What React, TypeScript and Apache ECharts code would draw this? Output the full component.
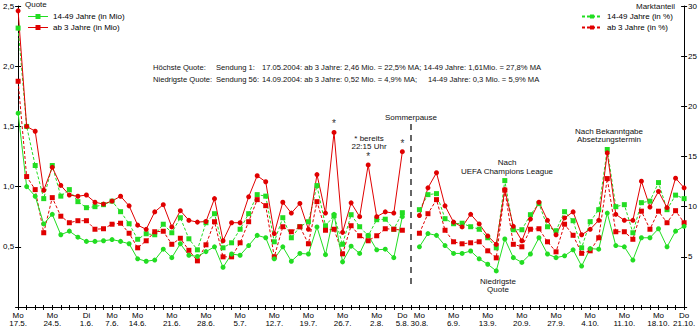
import React, { useEffect, useRef } from "react";
import * as echarts from "echarts";

// Episodes (Mo–Do), empty slot = Sommerpause
const episodes: string[] = [
  "Mo 17.5.", "Di 18.5.", "Mi 19.5.", "Do 20.5.",
  "Mo 24.5.", "Di 25.5.", "Mi 26.5.", "Do 27.5.",
  "Di 1.6.", "Mi 2.6.", "Do 3.6.",
  "Mo 7.6.", "Di 8.6.", "Mi 9.6.",
  "Mo 14.6.", "Di 15.6.", "Mi 16.6.", "Do 17.6.",
  "Mo 21.6.", "Di 22.6.", "Mi 23.6.", "Do 24.6.",
  "Mo 28.6.", "Di 29.6.", "Mi 30.6.", "Do 1.7.",
  "Mo 5.7.", "Di 6.7.", "Mi 7.7.", "Do 8.7.",
  "Mo 12.7.", "Di 13.7.", "Mi 14.7.", "Do 15.7.",
  "Mo 19.7.", "Di 20.7.", "Mi 21.7.", "Do 22.7.",
  "Mo 26.7.", "Di 27.7.", "Mi 28.7.", "Do 29.7.",
  "Mo 2.8.", "Di 3.8.", "Mi 4.8.", "Do 5.8.",
  "",
  "Mo 30.8.", "Di 31.8.", "Mi 1.9.", "Do 2.9.",
  "Mo 6.9.", "Di 7.9.", "Mi 8.9.", "Do 9.9.",
  "Mo 13.9.", "Di 14.9.", "Mi 15.9.", "Do 16.9.",
  "Mo 20.9.", "Di 21.9.", "Mi 22.9.", "Do 23.9.",
  "Mo 27.9.", "Di 28.9.", "Mi 29.9.", "Do 30.9.",
  "Mo 4.10.", "Di 5.10.", "Mi 6.10.", "Do 7.10.",
  "Mo 11.10.", "Di 12.10.", "Mi 13.10.", "Do 14.10.",
  "Mo 18.10.", "Di 19.10.", "Mi 20.10.", "Do 21.10.",
];

const shownLabels: string[] = [
  "Mo 17.5.", "Mo 24.5.", "Di 1.6.", "Mo 7.6.", "Mo 14.6.", "Mo 21.6.", "Mo 28.6.",
  "Mo 5.7.", "Mo 12.7.", "Mo 19.7.", "Mo 26.7.", "Mo 2.8.", "Do 5.8.", "Mo 30.8.",
  "Mo 6.9.", "Mo 13.9.", "Mo 20.9.", "Mo 27.9.", "Mo 4.10.", "Mo 11.10.", "Mo 18.10.", "Do 21.10.",
];

const starredDays: string[] = ["Do 22.7.", "Do 29.7.", "Do 5.8."];

// ab 3 Jahre (in Mio)
const mioAb3: (number | null)[] = [
  2.46, 1.50, 1.46, 0.97, 1.16, 1.01, 0.93, 0.92, 0.93, 0.87,
  0.855, 0.88, 0.92, 0.84, 0.68, 0.645, 0.79, 0.85, 0.665, 0.80,
  0.72, 0.705, 0.71, 0.90, 0.55, 0.70, 0.70, 0.915, 1.09, 1.04,
  0.61, 0.87, 0.78, 0.86, 0.645, 1.10, 0.78, 1.45, 0.62, 0.865,
  0.75, 1.18, 0.75, 0.79, 0.78, 1.29, null, 0.76, 0.99, 1.115,
  0.84, 0.705, 0.665, 0.77, 0.69, 0.59, 0.52, 0.975, 0.67, 0.55,
  0.73, 0.87, 0.72, 0.60, 0.74, 0.79, 0.60, 0.645, 0.72, 1.28,
  0.77, 0.72, 0.72, 1.045, 0.83, 0.96, 0.825, 1.07, 0.99,
];

// 14-49 Jahre (in Mio)
const mio1449: (number | null)[] = [
  1.61, 1.00, 0.92, 0.69, 0.77, 0.60, 0.63, 0.58, 0.545, 0.545,
  0.55, 0.56, 0.545, 0.525, 0.40, 0.38, 0.39, 0.48, 0.41, 0.525,
  0.43, 0.42, 0.46, 0.50, 0.33, 0.44, 0.43, 0.51, 0.595, 0.575,
  0.40, 0.50, 0.38, 0.445, 0.44, 0.665, 0.435, 0.77, 0.375, 0.505,
  0.445, 0.595, 0.475, 0.48, 0.41, 0.75, null, 0.50, 0.61, 0.595,
  0.51, 0.445, 0.445, 0.465, 0.40, 0.355, 0.30, 0.565, 0.41, 0.37,
  0.44, 0.575, 0.44, 0.41, 0.425, 0.475, 0.34, 0.485, 0.48, 0.78,
  0.51, 0.50, 0.39, 0.575, 0.575, 0.65, 0.50, 0.63, 0.67,
];

// 14-49 Jahre (in %)
const pct1449: (number | null)[] = [
  27.8, 18.0, 14.1, 10.8, 14.1, 11.05, 11.7, 10.5, 9.9, 10.0,
  10.2, 10.55, 9.5, 8.3, 6.75, 7.3, 7.2, 8.25, 7.4, 8.9,
  6.8, 5.7, 8.4, 9.3, 5.9, 6.4, 7.75, 9.3, 11.2, 11.05,
  6.5, 8.9, 6.9, 8.0, 8.5, 12.1, 8.1, 9.1, 6.25, 9.2,
  8.0, 7.1, 8.7, 8.75, 7.75, 9.4, null, 9.7, 11.2, 11.3,
  8.8, 8.3, 8.35, 8.0, 7.75, 6.9, 5.9, 12.6, 7.7, 7.7,
  9.2, 10.3, 8.0, 7.6, 9.5, 8.6, 5.9, 8.5, 9.7, 15.7,
  10.0, 10.2, 7.4, 10.4, 10.55, 12.4, 9.7, 11.15, 10.8,
];

// ab 3 Jahre (in %)
const pctAb3: (number | null)[] = [
  22.5, 13.0, 11.7, 7.4, 10.9, 9.05, 8.4, 8.6, 8.6, 7.75,
  7.8, 8.25, 8.35, 7.35, 5.9, 6.6, 7.5, 7.55, 6.25, 6.85,
  5.65, 4.6, 6.2, 8.5, 5.0, 5.0, 6.4, 8.5, 10.7, 10.1,
  5.0, 8.0, 7.5, 8.0, 6.3, 10.5, 7.65, 7.75, 5.3, 8.1,
  7.1, 6.6, 7.1, 7.8, 7.75, 7.65, null, 7.35, 9.3, 10.7,
  7.65, 6.5, 6.3, 6.4, 6.5, 5.6, 4.9, 11.65, 6.25, 6.0,
  7.75, 7.8, 6.5, 5.5, 8.25, 7.15, 5.35, 5.6, 6.9, 12.8,
  7.5, 7.5, 6.75, 9.55, 7.75, 9.55, 8.4, 9.6, 8.4,
];

const FONT = "'Liberation Sans', Arial, sans-serif";
const GREEN = "#22dd22";
const RED = "#e00000";
const TXT = "#111";
const FS = 8;
const AFS = 7.6;
const LEGEND_LINE_SQUARE = "path://M0,2 L20,2 L20,3 L0,3 Z M7.5,0 L12.5,0 L12.5,5 L7.5,5 Z";

function txt(text: string, x: number, y: number, align: string = "center", size: number = FS) {
  return {
    type: "text",
    x,
    y,
    silent: true,
    style: { text, fill: TXT, fontSize: size, fontFamily: FONT, align, verticalAlign: "middle" },
  };
}

export default function App() {
  const ref = useRef<HTMLDivElement>(null);
  useEffect(() => {
    if (!ref.current) return;
    const chart = echarts.init(ref.current, undefined, { renderer: "svg" });
    const axisCommonLine = { show: true, lineStyle: { color: "#000", width: 1 } };
    const labelStyle = { fontSize: FS, fontFamily: FONT, color: "#000" };
    const fmtMio = (v: number) => (v === 0 ? "" : v.toFixed(1).replace(".", ","));
    const fmtPct = (v: number) => (v === 0 ? "" : String(v));
    const legendText = { fontSize: FS, fontFamily: FONT, color: "#000", lineHeight: 9 };

    const option: any = {
      animation: false,
      backgroundColor: "#fff",
      grid: { left: 15, right: 13, top: 6, bottom: 20, containLabel: false },
      legend: [
        {
          data: [
            { name: "14-49 Jahre (in Mio)", icon: LEGEND_LINE_SQUARE },
            { name: "ab 3 Jahre (in Mio)", icon: LEGEND_LINE_SQUARE },
          ],
          orient: "vertical",
          left: 28,
          top: 12,
          itemWidth: 20,
          itemHeight: 5,
          itemGap: 2,
          padding: 0,
          textStyle: legendText,
        },
        {
          data: ["14-49 Jahre (in %)", "ab 3 Jahre (in %)"],
          orient: "vertical",
          left: 581,
          top: 12,
          itemWidth: 20,
          itemHeight: 5,
          itemGap: 2,
          padding: 0,
          textStyle: legendText,
        },
      ],
      xAxis: [
        {
          type: "category",
          data: episodes,
          boundaryGap: false,
          axisLine: axisCommonLine,
          axisTick: { show: true, interval: 0, length: 3, lineStyle: { color: "#000" } },
          axisLabel: {
            ...labelStyle,
            interval: (i: number, v: string) => shownLabels.includes(v),
            formatter: (v: string) => v.replace(" ", "\n"),
            lineHeight: 8,
            margin: 4,
          },
          splitLine: { show: false },
        },
        {
          type: "category",
          data: episodes,
          boundaryGap: false,
          position: "bottom",
          axisLine: { show: false },
          axisTick: { show: true, interval: 0, inside: true, length: 2, lineStyle: { color: "#000" } },
          axisLabel: { show: false },
          splitLine: { show: false },
        },
      ],
      yAxis: [
        {
          type: "value",
          position: "left",
          min: 0,
          max: 2.5,
          interval: 0.5,
          axisLine: axisCommonLine,
          axisTick: { show: true, length: 3, lineStyle: { color: "#000" } },
          axisLabel: { ...labelStyle, margin: 4, formatter: fmtMio },
          splitLine: { show: false },
        },
        {
          type: "value",
          position: "right",
          min: 0,
          max: 30,
          interval: 5,
          axisLine: axisCommonLine,
          axisTick: { show: true, length: 3, lineStyle: { color: "#000" } },
          axisLabel: { ...labelStyle, margin: 4, formatter: fmtPct },
          splitLine: { show: false },
        },
        {
          type: "value",
          position: "left",
          min: 0,
          max: 2.5,
          interval: 0.5,
          axisLine: { show: false },
          axisTick: { show: true, inside: true, length: 3, lineStyle: { color: "#000" } },
          axisLabel: { show: false },
          splitLine: { show: false },
        },
        {
          type: "value",
          position: "right",
          min: 0,
          max: 30,
          interval: 5,
          axisLine: { show: false },
          axisTick: { show: true, inside: true, length: 3, lineStyle: { color: "#000" } },
          axisLabel: {
            show: true,
            inside: true,
            margin: 9,
            fontSize: FS,
            fontFamily: FONT,
            color: TXT,
            padding: [0, 0, 2, 0],
            formatter: (v: number) => (v === 30 ? "Marktanteil" : ""),
          },
          splitLine: { show: false },
        },
      ],
      series: [
        {
          name: "14-49 Jahre (in %)",
          type: "line",
          yAxisIndex: 1,
          data: pct1449,
          symbol: "rect",
          symbolSize: 5,
          connectNulls: false,
          lineStyle: { color: GREEN, width: 1, type: [3, 2] },
          itemStyle: { color: GREEN },
        },
        {
          name: "ab 3 Jahre (in %)",
          type: "line",
          yAxisIndex: 1,
          data: pctAb3,
          symbol: "rect",
          symbolSize: 5,
          connectNulls: false,
          lineStyle: { color: RED, width: 1, type: [3, 2] },
          itemStyle: { color: RED },
        },
        {
          name: "14-49 Jahre (in Mio)",
          type: "line",
          yAxisIndex: 0,
          data: mio1449,
          symbol: "circle",
          symbolSize: 5,
          connectNulls: false,
          lineStyle: { color: GREEN, width: 1 },
          itemStyle: { color: GREEN },
        },
        {
          name: "ab 3 Jahre (in Mio)",
          type: "line",
          yAxisIndex: 0,
          data: mioAb3.map((v, i) =>
            starredDays.includes(episodes[i])
              ? {
                  value: v,
                  label: {
                    show: true,
                    formatter: "*",
                    position: "top",
                    distance: 1,
                    fontSize: 10,
                    fontFamily: FONT,
                    color: "#333",
                  },
                }
              : v
          ),
          symbol: "circle",
          symbolSize: 5,
          connectNulls: false,
          lineStyle: { color: RED, width: 1 },
          itemStyle: { color: RED },
        },
      ],
      graphic: [
        txt("Quote", 25, 4, "left"),
        txt("Höchste Quote:", 153, 67, "left", AFS),
        txt("Sendung 1:", 216, 67, "left", AFS),
        txt("17.05.2004: ab 3 Jahre: 2,46 Mio. = 22,5% MA; 14-49 Jahre: 1,61Mio. = 27,8% MA", 262, 67, "left", AFS),
        txt("Niedrigste Quote:", 153, 79, "left", AFS),
        txt("Sendung 56:", 216, 79, "left", AFS),
        txt("14.09.2004: ab 3 Jahre: 0,52 Mio. = 4,9% MA;", 262, 79, "left", AFS),
        txt("14-49 Jahre: 0,3 Mio. = 5,9% MA", 428, 79, "left", AFS),
        txt("Sommerpause", 411, 117),
        {
          type: "line",
          silent: true,
          shape: { x1: 411, y1: 124, x2: 411, y2: 284 },
          style: { stroke: "#000", lineWidth: 1.2, lineDash: [6, 5] },
        },
        txt("* bereits", 369, 138),
        txt("22:15 Uhr", 369, 146),
        txt("Nach", 507, 162),
        txt("UEFA Champions League", 507, 171),
        txt("Niedrigste", 498, 281),
        txt("Quote", 498, 289),
        txt("Nach Bekanntgabe", 609, 131),
        txt("Absetzungstermin", 609, 139),
      ],
    };
    chart.setOption(option);
    return () => chart.dispose();
  }, []);
  return (
    <div
      ref={ref}
      style={{ position: "absolute", left: 0, top: 0, width: 700, height: 327, background: "#fff" }}
    />
  );
}
